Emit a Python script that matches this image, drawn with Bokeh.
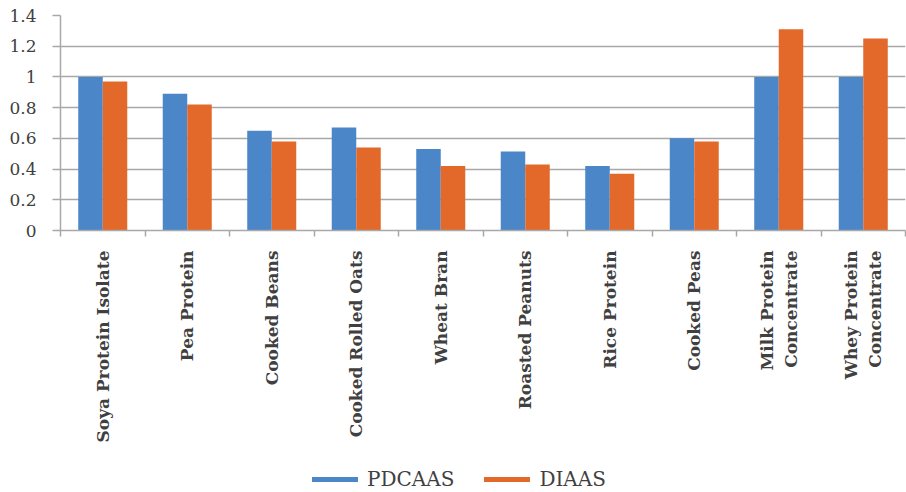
import numpy as np
from bokeh.plotting import figure
from bokeh.layouts import column
from bokeh.models import ColumnDataSource, FixedTicker, Legend, LegendItem, Range1d
from bokeh.transform import dodge
from bokeh.embed import file_html
from bokeh.resources import INLINE

categories = ["Soya Protein Isolate", "Pea Protein", "Cooked Beans", "Cooked Rolled Oats",
              "Wheat Bran", "Roasted Peanuts", "Rice Protein", "Cooked Peas",
              "Milk Protein\nConcentrate", "Whey Protein\nConcentrate"]
pdcaas = [1.0, 0.89, 0.65, 0.67, 0.53, 0.515, 0.42, 0.60, 1.0, 1.0]
diaas = [0.97, 0.82, 0.58, 0.54, 0.42, 0.43, 0.37, 0.58, 1.31, 1.25]
y_ticks = [0, 0.2, 0.4, 0.6, 0.8, 1.0, 1.2, 1.4]
y_tick_labels = ["0", "0.2", "0.4", "0.6", "0.8", "1", "1.2", "1.4"]
series_names = ["PDCAAS", "DIAAS"]

BLUE = "#4A86C8"
ORANGE = "#E3692A"
TEXT = "#404040"
GRID = "#a8a8a8"
SERIF = "DejaVu Serif"

n = len(categories)
centers = list(np.arange(n) + 0.5)
src = ColumnDataSource(dict(x=centers, pdcaas=pdcaas, diaas=diaas))

p = figure(width=906, height=462, output_backend="svg", toolbar_location=None,
           x_range=Range1d(0, n), y_range=Range1d(0, 1.4),
           min_border_left=60, min_border_right=1, min_border_top=15, min_border_bottom=232)
p.outline_line_color = None
p.background_fill_color = "white"
p.border_fill_color = "white"

r1 = p.vbar(x=dodge("x", -0.145, range=p.x_range), top="pdcaas", width=0.29, source=src,
            fill_color=BLUE, line_color=None)
r2 = p.vbar(x=dodge("x", 0.145, range=p.x_range), top="diaas", width=0.29, source=src,
            fill_color=ORANGE, line_color=None)

# x axis: ticks at category boundaries, labels at centers
xa = p.xaxis[0]
xa.ticker = FixedTicker(ticks=centers, minor_ticks=list(range(n + 1)))
xa.major_label_overrides = {c: lab for c, lab in zip(centers, categories)}
xa.major_tick_line_color = None
xa.minor_tick_line_color = GRID
xa.minor_tick_line_width = 1.5
xa.minor_tick_in = 0
xa.minor_tick_out = 6
xa.axis_line_color = GRID
xa.axis_line_width = 1.5
xa.major_label_orientation = np.pi / 2
xa.major_label_text_font = SERIF
xa.major_label_text_font_style = "bold"
xa.major_label_text_font_size = "17px"
xa.major_label_text_color = TEXT
xa.major_label_standoff = 14

ya = p.yaxis[0]
ya.ticker = FixedTicker(ticks=y_ticks)
ya.major_label_overrides = {t: l for t, l in zip(y_ticks, y_tick_labels)}
ya.major_tick_line_color = GRID
ya.major_tick_line_width = 1.5
ya.major_tick_in = 0
ya.major_tick_out = 8
ya.minor_tick_line_color = None
ya.axis_line_color = GRID
ya.axis_line_width = 1.5
ya.major_label_text_font = SERIF
ya.major_label_text_font_size = "17px"
ya.major_label_text_color = TEXT
ya.major_label_standoff = 16

p.xgrid.grid_line_color = None
p.ygrid.ticker = FixedTicker(ticks=y_ticks)
p.ygrid.grid_line_color = GRID
p.ygrid.grid_line_width = 1.5

# separate legend strip below the chart
lg = figure(width=906, height=30, output_backend="svg", toolbar_location=None,
            x_range=Range1d(0, 1), y_range=Range1d(0, 1),
            min_border_left=0, min_border_right=0, min_border_top=0, min_border_bottom=0)
lg.outline_line_color = None
lg.axis.visible = False
lg.grid.visible = False
proxy = ColumnDataSource(dict(x=[np.nan], y=[np.nan]))
l1 = lg.line(x="x", y="y", source=proxy, line_color=BLUE, line_width=5, line_cap="round")
l2 = lg.line(x="x", y="y", source=proxy, line_color=ORANGE, line_width=5, line_cap="round")
legend = Legend(items=[LegendItem(label=series_names[0], renderers=[l1]),
                       LegendItem(label=series_names[1], renderers=[l2])],
                orientation="horizontal", location=(252, 1),
                border_line_color=None, background_fill_alpha=0,
                label_text_font=SERIF, label_text_font_size="20px",
                label_text_color=TEXT, glyph_width=46, glyph_height=12,
                spacing=30, label_standoff=9, padding=0, margin=0)
lg.add_layout(legend, "center")

layout = column(p, lg, spacing=0)
open("out.html", "w").write(file_html(layout, INLINE))
